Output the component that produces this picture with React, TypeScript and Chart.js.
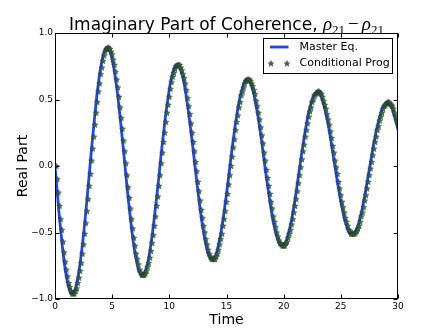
import React, { useEffect, useRef } from "react";
import { Chart, registerables } from "chart.js";

Chart.register(...registerables);

const timeStep = 0.1;
const conditionalLag = 0.1;
const xTickValues = [0, 5, 10, 15, 20, 25, 30];
const yTickValues = [-1, -0.5, 0, 0.5, 1];
const seriesLabels = ["Master Eq.", "Conditional Prog"];
const titleText = "Imaginary Part of Coherence, ";
const xAxisLabel = "Time";
const yAxisLabel = "Real Part";

// Value read every 0.1 time units, t = 0 .. 30
const realPartValues = [
  0.00, -0.10, -0.20, -0.30, -0.40, -0.48, -0.57, -0.65, -0.72, -0.78,
  -0.83, -0.88, -0.91, -0.94, -0.96, -0.96, -0.96, -0.94, -0.92, -0.88,
  -0.84, -0.79, -0.73, -0.66, -0.59, -0.51, -0.43, -0.34, -0.25, -0.15,
  -0.06, 0.04, 0.13, 0.22, 0.31, 0.40, 0.48, 0.56, 0.62, 0.69,
  0.74, 0.79, 0.83, 0.86, 0.88, 0.89, 0.89, 0.88, 0.86, 0.84,
  0.80, 0.76, 0.71, 0.65, 0.59, 0.52, 0.44, 0.36, 0.28, 0.19,
  0.11, 0.02, -0.07, -0.16, -0.24, -0.32, -0.40, -0.47, -0.54, -0.60,
  -0.66, -0.70, -0.74, -0.78, -0.80, -0.82, -0.82, -0.82, -0.81, -0.79,
  -0.76, -0.73, -0.69, -0.64, -0.58, -0.52, -0.45, -0.38, -0.30, -0.23,
  -0.15, -0.07, 0.02, 0.10, 0.18, 0.25, 0.33, 0.40, 0.46, 0.52,
  0.58, 0.63, 0.67, 0.70, 0.73, 0.75, 0.76, 0.76, 0.76, 0.74,
  0.72, 0.69, 0.66, 0.62, 0.57, 0.51, 0.45, 0.39, 0.32, 0.25,
  0.18, 0.11, 0.03, -0.04, -0.12, -0.19, -0.26, -0.33, -0.39, -0.45,
  -0.50, -0.55, -0.59, -0.63, -0.66, -0.68, -0.70, -0.70, -0.70, -0.70,
  -0.68, -0.66, -0.63, -0.59, -0.55, -0.51, -0.45, -0.40, -0.34, -0.27,
  -0.21, -0.14, -0.07, 0.00, 0.07, 0.14, 0.20, 0.27, 0.33, 0.38,
  0.44, 0.48, 0.53, 0.56, 0.59, 0.62, 0.64, 0.65, 0.65, 0.65,
  0.64, 0.62, 0.60, 0.57, 0.54, 0.49, 0.45, 0.40, 0.35, 0.29,
  0.23, 0.17, 0.10, 0.04, -0.03, -0.09, -0.15, -0.21, -0.27, -0.32,
  -0.38, -0.42, -0.46, -0.50, -0.53, -0.56, -0.58, -0.59, -0.60, -0.60,
  -0.60, -0.58, -0.57, -0.54, -0.51, -0.48, -0.44, -0.40, -0.35, -0.30,
  -0.25, -0.19, -0.13, -0.07, -0.01, 0.05, 0.11, 0.16, 0.22, 0.27,
  0.32, 0.37, 0.41, 0.44, 0.48, 0.50, 0.53, 0.54, 0.55, 0.56,
  0.56, 0.55, 0.54, 0.52, 0.49, 0.46, 0.43, 0.39, 0.35, 0.31,
  0.26, 0.21, 0.15, 0.10, 0.04, -0.01, -0.06, -0.12, -0.17, -0.22,
  -0.27, -0.31, -0.35, -0.39, -0.42, -0.45, -0.48, -0.49, -0.51, -0.51,
  -0.51, -0.51, -0.50, -0.49, -0.47, -0.45, -0.42, -0.38, -0.35, -0.31,
  -0.26, -0.22, -0.17, -0.12, -0.07, -0.02, 0.03, 0.08, 0.13, 0.18,
  0.22, 0.27, 0.30, 0.34, 0.37, 0.40, 0.43, 0.45, 0.46, 0.47,
  0.48, 0.48, 0.47, 0.46, 0.45, 0.43, 0.40, 0.37, 0.34, 0.31,
  0.27,
];

const LINE_COLOR = "rgb(30,70,255)";
const STAR_FILL = "rgb(45,125,45)";
const STAR_EDGE = "rgb(40,45,40)";

function makeStar(): HTMLCanvasElement {
  const c = document.createElement("canvas");
  c.width = 8;
  c.height = 8;
  const g = c.getContext("2d")!;
  const cx = 4, cy = 4.2, ro = 3.0, ri = 1.25;
  g.beginPath();
  for (let i = 0; i < 10; i++) {
    const r = i % 2 === 0 ? ro : ri;
    const a = -Math.PI / 2 + (i * Math.PI) / 5;
    const px = cx + r * Math.cos(a);
    const py = cy + r * Math.sin(a);
    if (i === 0) g.moveTo(px, py);
    else g.lineTo(px, py);
  }
  g.closePath();
  g.fillStyle = STAR_FILL;
  g.fill();
  g.lineWidth = 0.6;
  g.strokeStyle = STAR_EDGE;
  g.stroke();
  return c;
}

export default function App() {
  const canvasRef = useRef<HTMLCanvasElement | null>(null);

  useEffect(() => {
    const canvas = canvasRef.current;
    if (!canvas) return;
    const star = makeStar();
    const linePoints = realPartValues.map((v, i) => ({ x: i * timeStep, y: v }));
    const starPoints = realPartValues.map((v, i) => ({ x: i * timeStep + conditionalLag, y: v }));

    const decorations = {
      id: "decorations",
      afterDraw(chart: any) {
        const ctx = chart.ctx as CanvasRenderingContext2D;
        const area = chart.chartArea;
        const xs = chart.scales.x;
        const ys = chart.scales.y;
        ctx.save();
        // keep marks from spilling past the right frame
        ctx.fillStyle = "#fff";
        ctx.fillRect(area.right, area.top - 6, 443 - area.right, area.bottom - area.top + 6);
        ctx.strokeStyle = "#000";
        ctx.lineWidth = 1;
        const L = Math.round(area.left) + 0.5;
        const R = Math.round(area.right) - 0.5;
        const T = Math.round(area.top) + 0.5;
        const B = Math.round(area.bottom) - 0.5;
        ctx.strokeRect(L, T, R - L, B - T);
        ctx.beginPath();
        const tl = 4;
        xTickValues.forEach((v) => {
          const px = Math.round(xs.getPixelForValue(v)) + 0.5;
          ctx.moveTo(px, B);
          ctx.lineTo(px, B - tl);
          ctx.moveTo(px, T);
          ctx.lineTo(px, T + tl);
        });
        yTickValues.forEach((v) => {
          const py = Math.round(ys.getPixelForValue(v)) + 0.5;
          ctx.moveTo(L, py);
          ctx.lineTo(L + tl, py);
          ctx.moveTo(R, py);
          ctx.lineTo(R - tl, py);
        });
        ctx.stroke();

        // title
        const cx = (area.left + area.right) / 2;
        const baseY = 29.5;
        const mainFont = '17px "DejaVu Sans"';
        const rhoFont = 'italic 19px "Liberation Serif"';
        const subFont = '13px "Liberation Serif"';
        const minusFont = '19px "Liberation Serif"';
        const segs: [string, string, number, number][] = [
          [titleText, mainFont, 0, 0],
          ["ρ", rhoFont, 0, 0],
          ["21", subFont, 4, 0],
          ["−", minusFont, 0, 3],
          ["ρ", rhoFont, 0, 3],
          ["21", subFont, 4, 0],
        ];
        let total = 0;
        segs.forEach(([t, f, , gap]) => {
          ctx.font = f;
          total += gap + ctx.measureText(t).width;
        });
        let x = cx - total / 2;
        ctx.fillStyle = "#000";
        ctx.textAlign = "left";
        ctx.textBaseline = "alphabetic";
        segs.forEach(([t, f, dy, gap]) => {
          ctx.font = f;
          x += gap;
          ctx.fillText(t, x, baseY + dy);
          x += ctx.measureText(t).width;
        });

        // axis labels
        ctx.font = '14px "DejaVu Sans"';
        ctx.textAlign = "center";
        ctx.textBaseline = "alphabetic";
        ctx.fillText(xAxisLabel, cx, 323.5);
        ctx.save();
        ctx.translate(27, (area.top + area.bottom) / 2);
        ctx.rotate(-Math.PI / 2);
        ctx.fillText(yAxisLabel, 0, 0);
        ctx.restore();

        // legend
        const lx = 263.5, ly = 38.5, lw = 129, lh = 35;
        ctx.fillStyle = "#fff";
        ctx.fillRect(lx, ly, lw, lh);
        ctx.strokeStyle = "#000";
        ctx.lineWidth = 1;
        ctx.strokeRect(lx, ly, lw, lh);
        const row1 = 47, row2 = 63.5;
        ctx.strokeStyle = LINE_COLOR;
        ctx.lineWidth = 2.8;
        ctx.beginPath();
        ctx.moveTo(270, row1);
        ctx.lineTo(288.5, row1);
        ctx.stroke();
        ctx.drawImage(star, 271 - 4, row2 - 4);
        ctx.drawImage(star, 287 - 4, row2 - 4);
        ctx.fillStyle = "#000";
        ctx.font = '11px "DejaVu Sans"';
        ctx.textAlign = "left";
        ctx.textBaseline = "middle";
        ctx.fillText(chart.data.datasets[0].label, 299.5, row1);
        ctx.fillText(chart.data.datasets[1].label, 299.5, row2);
        ctx.restore();
      },
    };

    const chart = new Chart(canvas, {
      type: "line",
      data: {
        datasets: [
          {
            label: seriesLabels[0],
            data: linePoints,
            borderColor: LINE_COLOR,
            borderWidth: 2.8,
            pointRadius: 0,
            tension: 0,
            fill: false,
            order: 1,
          },
          {
            label: seriesLabels[1],
            data: starPoints,
            showLine: false,
            pointStyle: star as any,
            pointRadius: 4,
            borderWidth: 0,
            order: 0,
          },
        ],
      },
      options: {
        responsive: false,
        animation: false,
        devicePixelRatio: 1,
        layout: { padding: { top: 33, right: 45, left: 0, bottom: 0 } },
        plugins: {
          legend: { display: false },
          title: { display: false },
          tooltip: { enabled: false },
        },
        events: [],
        scales: {
          x: {
            type: "linear",
            min: 0,
            max: 30,
            afterBuildTicks: (s: any) => {
              s.ticks = xTickValues.map((v) => ({ value: v }));
            },
            afterFit: (s: any) => {
              s.height = 33;
            },
            ticks: {
              autoSkip: false,
              maxRotation: 0,
              padding: 2,
              color: "#000",
              font: { family: "DejaVu Sans", size: 9 },
              callback: (v: any) => String(v),
            },
            grid: { display: false, drawTicks: false },
            border: { display: false },
          },
          y: {
            type: "linear",
            min: -1,
            max: 1,
            afterBuildTicks: (s: any) => {
              s.ticks = yTickValues.map((v) => ({ value: v }));
            },
            afterFit: (s: any) => {
              s.width = 55;
            },
            ticks: {
              autoSkip: false,
              padding: 2,
              color: "#000",
              font: { family: "DejaVu Sans", size: 9 },
              callback: (v: any) => Number(v).toFixed(1).replace("-", "\u2212"),
            },
            grid: { display: false, drawTicks: false },
            border: { display: false },
          },
        },
      },
      plugins: [decorations],
    });
    return () => chart.destroy();
  }, []);

  return (
    <div style={{ position: "absolute", left: 0, top: 0, width: 443, height: 332, background: "#fff" }}>
      <canvas ref={canvasRef} width={443} height={332} style={{ width: 443, height: 332, display: "block" }} />
    </div>
  );
}
